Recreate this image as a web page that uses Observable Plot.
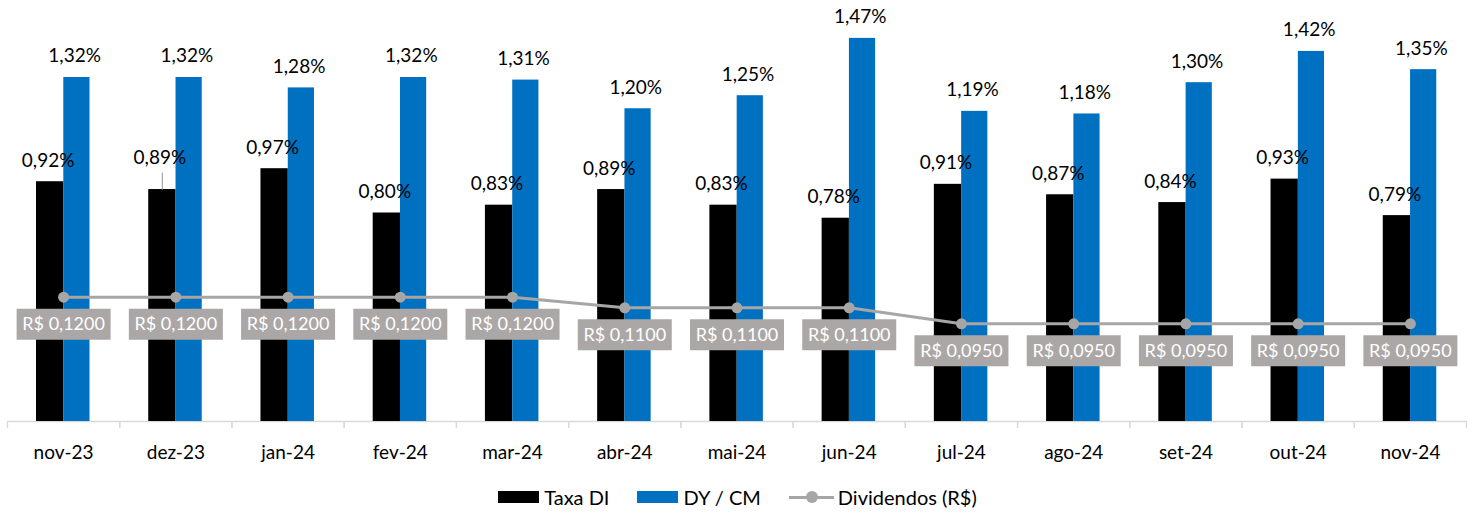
<!DOCTYPE html>
<html>
<head>
<meta charset="utf-8">
<script src="https://cdn.jsdelivr.net/npm/d3@7"></script>
<script src="https://cdn.jsdelivr.net/npm/@observablehq/plot@0.6"></script>
<style>
  html, body { margin: 0; padding: 0; background: #fff; }
  body { width: 1475px; height: 514px; position: relative; font-family: Lato, "Open Sans", sans-serif; overflow: hidden; }
  #legend { position: absolute; left: 0; top: 485px; width: 1475px; height: 24px; display: flex; justify-content: center; align-items: center; font-size: 20px; color: #000; }
  .item { display: flex; align-items: center; margin: 0 14px; }
  .sw { width: 41px; height: 12px; margin-right: 5px; }
  .ln { width: 45px; height: 12px; margin-right: 4px; position: relative; }
  .ln::before { content: ""; position: absolute; left: 0; right: 0; top: 5px; height: 3px; background: #A6A6A6; }
  .ln::after { content: ""; position: absolute; left: 17px; top: 0px; width: 12px; height: 12px; border-radius: 50%; background: #A6A6A6; }
</style>
</head>
<body>
<div id="chart"></div>
<div id="legend">
  <div class="item"><div class="sw" style="background:#000"></div>Taxa DI</div>
  <div class="item"><div class="sw" style="background:#0070C0"></div>DY / CM</div>
  <div class="item"><div class="ln"></div>Dividendos (R$)</div>
</div>
<script>
const months = ["nov-23","dez-23","jan-24","fev-24","mar-24","abr-24","mai-24","jun-24","jul-24","ago-24","set-24","out-24","nov-24"];
const taxaDI = [0.92,0.89,0.97,0.80,0.83,0.89,0.83,0.78,0.91,0.87,0.84,0.93,0.79];
const dyCM   = [1.32,1.32,1.28,1.32,1.31,1.20,1.25,1.47,1.19,1.18,1.30,1.42,1.35];
const dividendos = [0.12,0.12,0.12,0.12,0.12,0.11,0.11,0.11,0.095,0.095,0.095,0.095,0.095];

// primary axis (percent) and secondary axis (R$) domains
const yDomain = [0, 1.6];
const y2Domain = [0.0032, 0.395];
const toPrimary = v => (v - y2Domain[0]) / (y2Domain[1] - y2Domain[0]) * (yDomain[1] - yDomain[0]) + yDomain[0];

const pct = v => v.toFixed(2).replace(".", ",") + "%";
const brl = v => "R$ " + v.toFixed(4).replace(".", ",");

const data = months.map((m, i) => ({month: m, di: taxaDI[i], dy: dyCM[i], div: dividendos[i], y2: toPrimary(dividendos[i])}));

const W = 1475, bandStep = (1466 - 7) / 13;
const boxSymbol = {draw(ctx) { ctx.rect(-47, -15.5, 94, 31); }};
const leader = {draw(ctx) { ctx.moveTo(0, 0); ctx.lineTo(0, -17); }};

const chart = Plot.plot({
  width: W,
  height: 470,
  marginLeft: 7,
  marginRight: 9,
  marginTop: 4,
  marginBottom: 49,
  style: {fontFamily: "Lato, 'Open Sans', sans-serif", background: "#fff", overflow: "visible"},
  x: {domain: months, padding: 0, round: false, label: null},
  y: {domain: yDomain, axis: null},
  marks: [
    Plot.ruleY([0], {stroke: "#D9D9D9", strokeWidth: 1.3}),
    Plot.axisX({tickSize: 7, dx: -bandStep / 2, text: null, stroke: "#D9D9D9", strokeWidth: 1.3}),
    Plot.axisX({tickSize: 7, dx: bandStep / 2, text: null, stroke: "#D9D9D9", strokeWidth: 1.3}),
    Plot.axisX({tickSize: 0, tickPadding: 24, fontSize: 19, fill: "#000", label: null}),
    Plot.barY(data, {x: "month", y: "di", fill: "#000", insetLeft: 29, insetRight: bandStep - 56.3}),
    Plot.barY(data, {x: "month", y: "dy", fill: "#0070C0", insetLeft: 56.3, insetRight: bandStep - 82.5}),
    Plot.text(data.filter(d => d.month !== "dez-23"), {x: "month", y: "di", text: d => pct(d.di), dx: -15.5, dy: -15, lineAnchor: "bottom", fontSize: 19, fill: "#000"}),
    Plot.text(data.filter(d => d.month === "dez-23"), {x: "month", y: "di", text: d => pct(d.di), dx: -16, dy: -26, lineAnchor: "bottom", fontSize: 19, fill: "#000"}),
    Plot.dot(data.filter(d => d.month === "dez-23"), {x: "month", y: "di", symbol: leader, r: 1, stroke: "#A6A6A6", strokeWidth: 1.2, fill: "none", dx: -13.5}),
    Plot.text(data, {x: "month", y: "dy", text: d => pct(d.dy), dx: 11, dy: -15, lineAnchor: "bottom", fontSize: 19, fill: "#000"}),
    Plot.line(data, {x: "month", y: "y2", stroke: "#A6A6A6", strokeWidth: 3}),
    Plot.dot(data, {x: "month", y: "y2", r: 5.5, fill: "#A6A6A6"}),
    Plot.dot(data, {x: "month", y: "y2", symbol: boxSymbol, r: 1, fill: "#ABA7A6", dy: 27}),
    Plot.text(data, {x: "month", y: "y2", text: d => brl(d.div), dy: 27, fontSize: 18, fill: "#fff"})
  ]
});
document.getElementById("chart").appendChild(chart);
</script>
</body>
</html>
